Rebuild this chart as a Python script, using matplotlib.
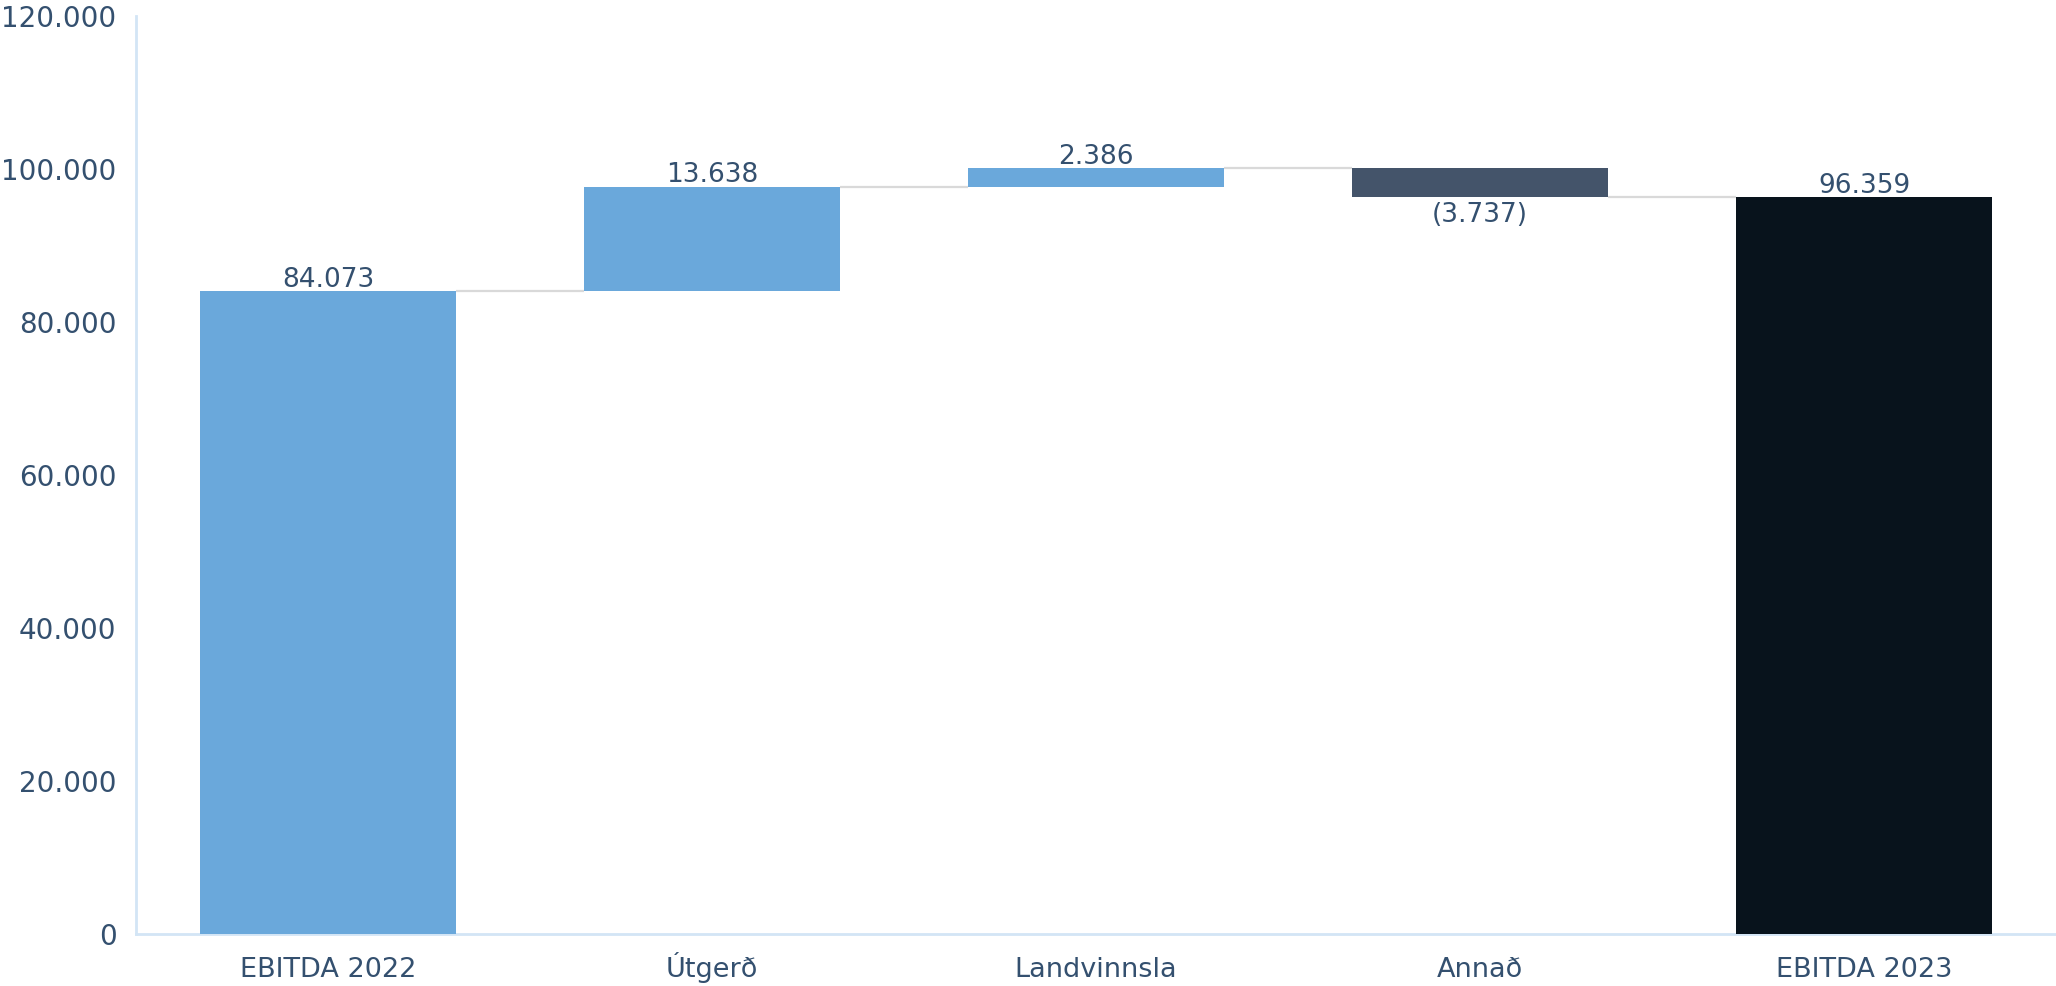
import matplotlib
matplotlib.use("Agg")
import matplotlib.pyplot as plt
import numpy as np

categories = ["EBITDA 2022", "Útgerð", "Landvinnsla", "Annað", "EBITDA 2023"]
values = [84073, 13638, 2386, -3737, 96359]
is_total = [True, False, False, False, True]
y_ticks = [0, 20000, 40000, 60000, 80000, 100000, 120000]

blue = "#6AA8DB"
slate = "#44546A"
dark = "#08131C"
text_col = "#34506F"
spine_col = "#D3E5F5"
conn_col = "#D9D9D9"

def fmt(v):
    s = f"{abs(v):,}".replace(",", ".")
    return f"({s})" if v < 0 else s

plt.rcParams['font.family'] = ['DejaVu Sans']

fig = plt.figure(figsize=(20.56, 9.86), dpi=100)
ax = fig.add_axes([136/2056, 52/986, 1 - 136/2056, (934-16)/986])

x = np.arange(len(categories))
width = 0.667
bottoms = []
ends = []
running = 0
for v, tot in zip(values, is_total):
    if tot:
        bottoms.append(0)
        running = v
        ends.append(v)
    else:
        bottoms.append(running)
        running = running + v
        ends.append(running)

colors = []
for i, (v, tot) in enumerate(zip(values, is_total)):
    if tot and i == len(values) - 1:
        colors.append(dark)
    elif v < 0:
        colors.append(slate)
    else:
        colors.append(blue)

ax.bar(x, values, width=width, bottom=bottoms, color=colors, zorder=3)

# connectors
for i in range(len(x) - 1):
    ax.hlines(ends[i], x[i] + width/2, x[i+1] - width/2, color=conn_col, lw=1.6, zorder=2)

# data labels
for i, (v, b) in enumerate(zip(values, bottoms)):
    top = b + v
    if v >= 0:
        ax.annotate(fmt(v), (x[i], top), xytext=(0, 3), textcoords="offset points",
                    ha="center", va="baseline", fontsize=19, color=text_col)
    else:
        ax.annotate(fmt(v), (x[i], top), xytext=(0, -4), textcoords="offset points",
                    ha="center", va="top", fontsize=19, color=text_col)

ax.set_xlim(-0.5, 4.5)
ax.set_ylim(0, 120000)
ax.set_yticks(y_ticks)
ax.set_yticklabels([fmt(t) for t in y_ticks])
ax.set_xticks(x)
ax.set_xticklabels(categories)
ax.tick_params(axis="y", length=0, pad=14, labelsize=20, labelcolor=text_col)
ax.tick_params(axis="x", length=0, pad=31, labelsize=19.5, labelcolor=text_col)
for lab in ax.get_xticklabels():
    lab.set_verticalalignment("baseline")
for s in ["top", "right"]:
    ax.spines[s].set_visible(False)
for s in ["left", "bottom"]:
    ax.spines[s].set_color(spine_col)
    ax.spines[s].set_linewidth(2)
ax.set_facecolor("white")
fig.savefig("out.png", dpi=100, facecolor="white")
